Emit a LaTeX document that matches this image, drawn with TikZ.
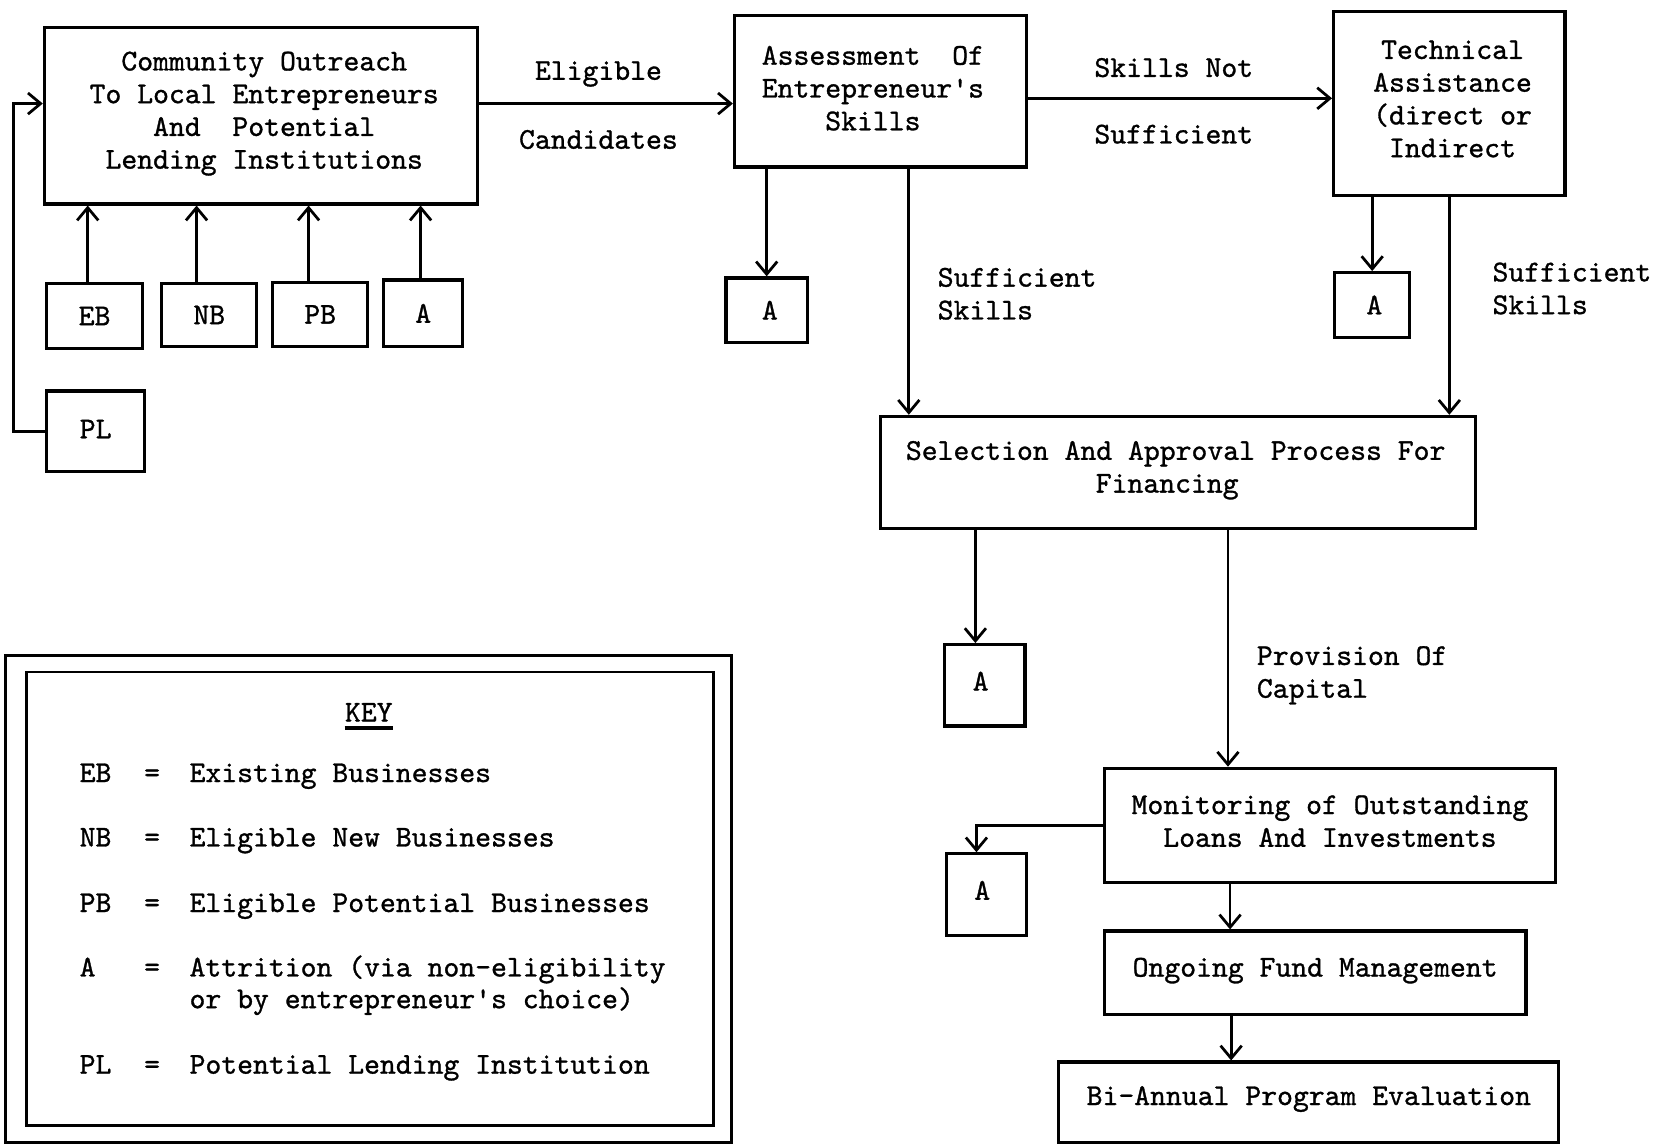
\documentclass[tikz,border=0pt]{standalone}
\usepackage{fontspec}
\usetikzlibrary{arrows.meta}
\newfontfamily\typewriter{lmmono10-regular.otf}[FakeBold=1]
\begin{document}
\begin{tikzpicture}[x=0.5pt,y=-0.5pt,
  txt/.style={font=\typewriter\fontsize{14.3}{15.5}\selectfont},
  box/.style={draw, line width=1.5pt, inner sep=0pt},
  btxt/.style={txt, align=center, inner sep=0pt},
  frame/.style={draw, line width=1.3pt, inner sep=0pt},
  arr/.style={draw, line width=1.3pt, -{Straight Barb[length=6pt,width=10pt]}},
  lbl/.style={txt, inner sep=0pt, align=left},
  kt/.style={txt, inner sep=0pt, text height=8pt, text depth=0pt, anchor=west}]
\useasboundingbox (0,0) rectangle (1568,1083);

% process boxes and their texts
\node[box, minimum width=205pt, minimum height=83.5pt] (comm) at (247,109.5) {};
\node[btxt] (comm-t) at ([xshift=1.5pt,yshift=1pt]comm.center)
  {Community Outreach\\To Local Entrepreneurs\\And\ \ Potential\\Lending Institutions};
\node[box, minimum width=45.5pt, minimum height=31pt] (eb) at (89.5,299) {};
\node[btxt] (eb-t) at (eb.center) {EB};
\node[box, minimum width=45pt, minimum height=30pt] (nb) at (198,298) {};
\node[btxt] (nb-t) at (nb.center) {NB};
\node[box, minimum width=45pt, minimum height=30.5pt] (pb) at (303,297.5) {};
\node[btxt] (pb-t) at (pb.center) {PB};
\node[box, minimum width=37.5pt, minimum height=31.5pt] (a1) at (400.5,296.5) {};
\node[btxt] (a1-t) at (a1.center) {A};
\node[box, minimum width=46.5pt, minimum height=38pt] (pl) at (90.5,408) {};
\node[btxt] (pl-t) at ([yshift=1pt]pl.center) {PL};
\node[box, minimum width=138pt, minimum height=71.5pt] (assess) at (833,86.5) {};
\node[btxt] (assess-t) at ([xshift=-3.5pt,yshift=1.5pt]assess.center)
  {Assessment\ \ Of\\Entrepreneur's\\Skills};
\node[box, minimum width=38.5pt, minimum height=30.5pt] (a2) at (725.5,293.5) {};
\node[btxt] (a2-t) at ([xshift=1.5pt]a2.center) {A};
\node[box, minimum width=109.5pt, minimum height=87pt] (tech) at (1371.5,98) {};
\node[btxt] (tech-t) at ([xshift=1.5pt,yshift=2.2pt]tech.center)
  {Technical\\Assistance\\(direct or\\Indirect};
\node[box, minimum width=35.5pt, minimum height=30.5pt] (a3) at (1298.5,288.5) {};
\node[btxt] (a3-t) at ([xshift=1pt]a3.center) {A};
\node[box, minimum width=281.5pt, minimum height=53pt] (select) at (1114.5,447) {};
\node[btxt] (select-t) at ([xshift=-1pt,yshift=1pt]select.center)
  {Selection And Approval Process For\\\hspace*{-8pt}Financing};
\node[box, minimum width=38pt, minimum height=38.5pt] (a4) at (932,648.5) {};
\node[btxt] (a4-t) at ([xshift=-2pt,yshift=2pt]a4.center) {A};
\node[box, minimum width=213.5pt, minimum height=54pt] (monit) at (1258.5,781) {};
\node[btxt] (monit-t) at ([yshift=2pt]monit.center)
  {Monitoring of Outstanding\\Loans And Investments};
\node[box, minimum width=37.5pt, minimum height=38.5pt] (a5) at (933.5,846.5) {};
\node[btxt] (a5-t) at ([xshift=-2pt,yshift=2pt]a5.center) {A};
\node[box, minimum width=199.5pt, minimum height=39.5pt] (ongo) at (1244.5,920.5) {};
\node[btxt] (ongo-t) at ([yshift=1pt]ongo.center) {Ongoing Fund Management};
\node[box, minimum width=236.5pt, minimum height=38pt] (biann) at (1238.5,1043) {};
\node[btxt] (biann-t) at ([yshift=1.5pt]biann.center) {Bi-Annual Program Evaluation};

% inputs to the outreach box
\draw[arr] ([xshift=-3.25pt]eb.north) -- ([xshift=-3.25pt]eb.north |- comm.south);
\draw[arr] ([xshift=-6pt]nb.north) -- ([xshift=-6pt]nb.north |- comm.south);
\draw[arr] ([xshift=-5.5pt]pb.north) -- ([xshift=-5.5pt]pb.north |- comm.south);
\draw[arr] ([xshift=-1.25pt]a1.north) -- ([xshift=-1.25pt]a1.north |- comm.south);
\draw[arr] (pl.west) -- ++(-30,0) |- ([yshift=5.75pt]comm.west);

% main flow
\draw[arr] ([yshift=5.75pt]comm.east) -- ([yshift=5.75pt]comm.east -| assess.west)
  node[lbl, pos=0.47, yshift=14pt] (lelig) {Eligible}
  node[lbl, pos=0.47, yshift=-17pt] (lcand) {Candidates};
\draw[arr] ([yshift=-3.25pt]assess.east) -- ([yshift=-3.25pt]assess.east -| tech.west)
  node[lbl, pos=0.48, yshift=14.5pt] (lnot) {Skills Not}
  node[lbl, pos=0.48, yshift=-17pt] (lsuff) {Sufficient};
\draw[arr] (assess.south -| a2.north) -- (a2.north);
\draw[arr] ([xshift=13.5pt]assess.south) -- ([xshift=13.5pt]assess.south |- select.north);
\node[lbl, anchor=west] (ls1) at (887,278) {Sufficient\\Skills};
\draw[arr] (tech.south -| a3.north) -- (a3.north);
\draw[arr] (tech.south) -- (tech.south |- select.north);
\node[lbl, anchor=west] (ls2) at (1412,273) {Sufficient\\Skills};
\draw[arr] ([xshift=-4.5pt]a4.north |- select.south) -- ([xshift=-4.5pt]a4.north);
\draw[arr] ([xshift=23.75pt]select.south) -- ([xshift=23.75pt]select.south |- monit.north);
\node[lbl, anchor=west] (lcap) at (1189,639) {Provision Of\\Capital};
\draw[arr] (monit.west) -| ([xshift=-4.75pt]a5.north);
\draw[arr] ([xshift=-47.25pt]monit.south) -- ([xshift=-47.25pt]monit.south |- ongo.north);
\draw[arr] ([xshift=-39.75pt]ongo.south) -- ([xshift=-39.75pt]ongo.south |- biann.north);

% key
\node[frame, minimum width=343.5pt, minimum height=230.5pt] (keyout) at (348.5,850.5) {};
\node[frame, minimum width=325pt, minimum height=214.5pt] (keyin) at (350,850.5) {};
\node[txt, inner sep=0pt] (keyt) at (349,674) {KEY};
\draw[line width=1.8pt] ([yshift=-3pt]keyt.south west) -- ([yshift=-3pt]keyt.south east);

\node[kt] (k1a) at (75,732) {EB};
\node[kt] (k1b) at (136,732) {=};
\node[kt] (k1c) at (179,732) {Existing Businesses};
\node[kt] (k2a) at (75,793) {NB};
\node[kt] (k2b) at (136,793) {=};
\node[kt] (k2c) at (179,793) {Eligible New Businesses};
\node[kt] (k3a) at (75,855) {PB};
\node[kt] (k3b) at (136,855) {=};
\node[kt] (k3c) at (179,855) {Eligible Potential Businesses};
\node[kt] (k4a) at (75,916) {A};
\node[kt] (k4b) at (136,916) {=};
\node[kt] (k4c) at (179,916) {Attrition (via non-eligibility};
\node[kt] (k4d) at (179,946) {or by entrepreneur's choice)};
\node[kt] (k5a) at (75,1008) {PL};
\node[kt] (k5b) at (136,1008) {=};
\node[kt] (k5c) at (179,1008) {Potential Lending Institution};
\end{tikzpicture}
\end{document}
